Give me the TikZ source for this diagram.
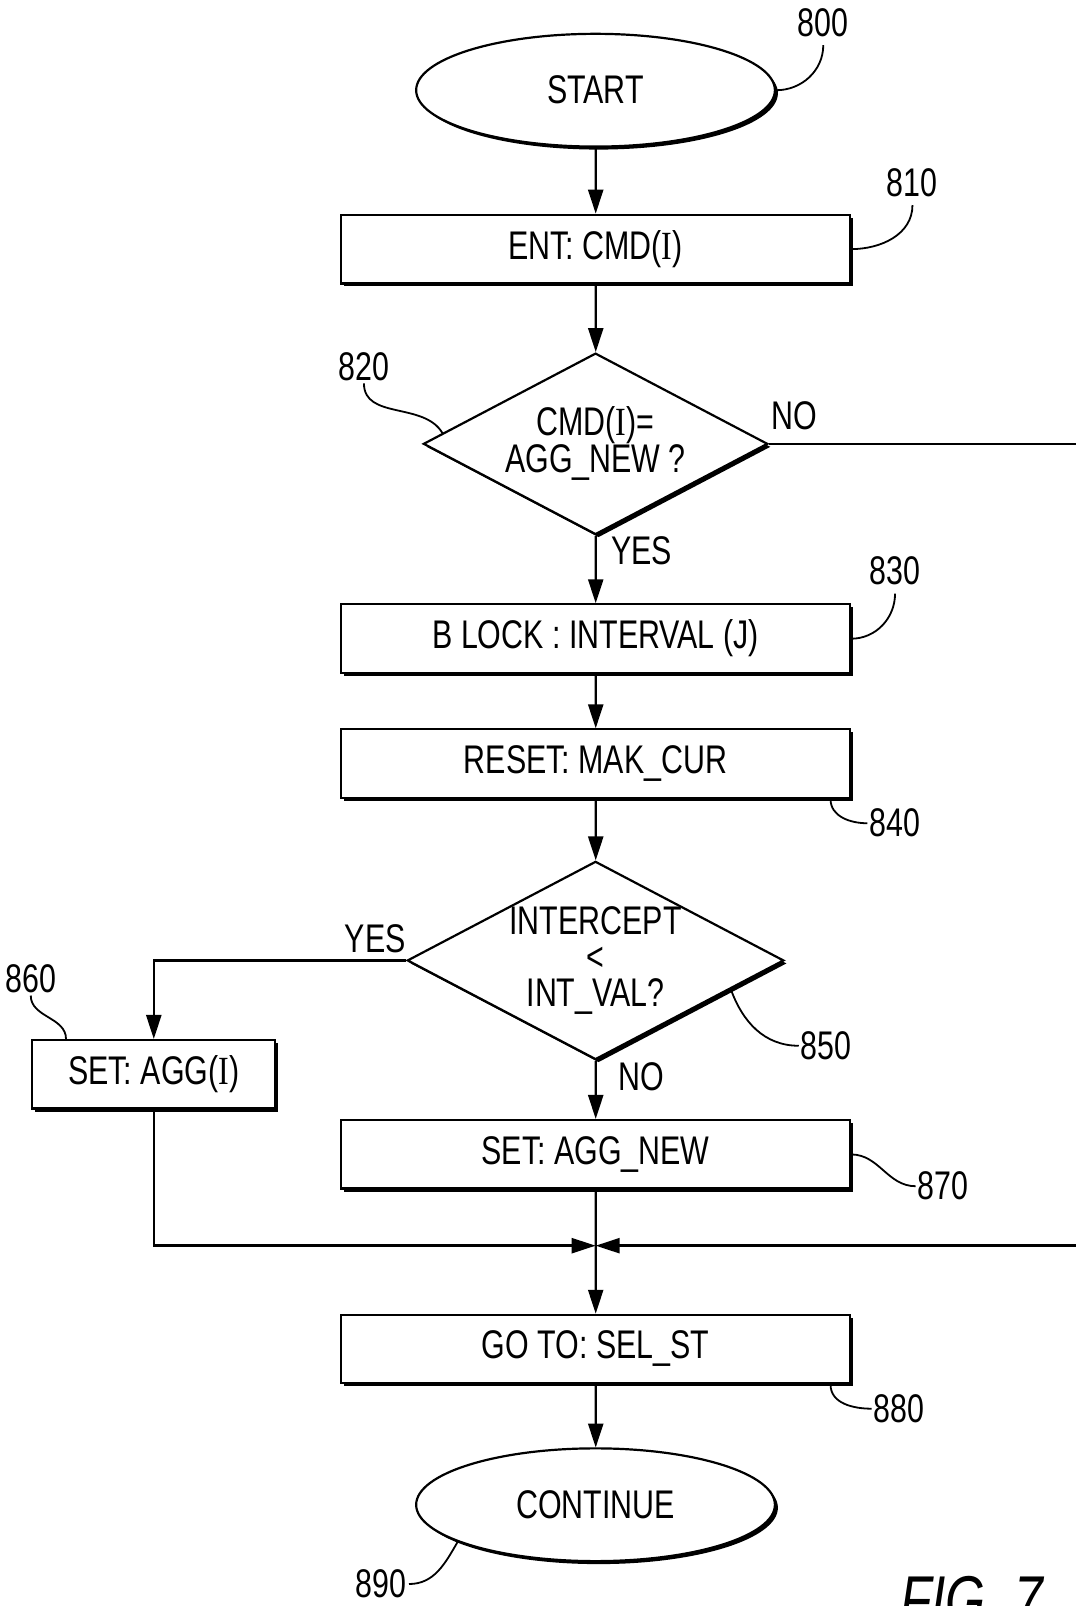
\documentclass[tikz,border=0pt]{standalone}
\usepackage{fontspec}
\setmainfont[FakeStretch=0.76]{Liberation Sans}
\newfontfamily\romI[FakeStretch=0.8]{Liberation Serif}
\usetikzlibrary{shapes.geometric,arrows.meta,shadows}
\newcommand\chartsize{\fontsize{39}{35}\selectfont}
\tikzset{
  stepbox/.style={draw, line width=2.2pt, fill=white, inner sep=0pt, minimum height=67pt, font=\chartsize,
    drop shadow={shadow xshift=3pt, shadow yshift=-3pt, fill=black, opacity=1}},
  term/.style={stepbox, ellipse, minimum width=350pt, minimum height=110pt},
  decide/.style={stepbox, diamond, align=center, aspect=1.9},
  flow/.style={line width=2.4pt, -{Triangle[length=24pt,width=15pt]}},
  wire/.style={line width=2.4pt},
  lead/.style={line width=1.8pt},
  tag/.style={font=\chartsize, inner sep=2pt},
}
\begin{document}
\begin{tikzpicture}[x=1pt, y=-1pt, scale=1.025, every node/.append style={transform shape}]
    \useasboundingbox (0,0) rectangle (1048.8,1566.8);
    \node[term] (start) at (581,88) {START};
    \node[stepbox, minimum width=496pt] (b810) at (581,243) {ENT: CMD({\romI I})};
    \node[decide, minimum width=336pt, minimum height=177pt] (d820) at (581,433) {CMD({\romI I})=\\AGG\_NEW ?};
    \node[stepbox, minimum width=496pt] (b830) at (581,623) {B LOCK : INTERVAL (J)};
    \node[stepbox, minimum width=496pt] (b840) at (581,745) {RESET: MAK\_CUR};
    \node[decide, minimum width=365pt, minimum height=193pt] (d850) at (581,937) {INTERCEPT\\<\\INT\_VAL?};
    \node[stepbox, minimum width=237pt] (b860) at (150,1048) {SET: AGG({\romI I})};
    \node[stepbox, minimum width=496pt] (b870) at (581,1126) {SET: AGG\_NEW};
    \node[stepbox, minimum width=496pt] (b880) at (581,1316) {GO TO: SEL\_ST};
    \node[term] (cont) at (581,1468) {CONTINUE};
    \coordinate (jn) at (581,1215);
    \coordinate (rt1) at (1100,433);
    \coordinate (rt2) at (1100,1215);
    \draw[flow] (start) -- (b810);
    \draw[flow] (b810) -- (d820);
    \draw[flow] (d820) -- (b830);
    \draw[flow] (b830) -- (b840);
    \draw[flow] (b840) -- (d850);
    \draw[flow] (d850.west) -| (b860.north);
    \draw[flow] (d850) -- (b870);
    \draw[flow] (b870) -- (b880);
    \draw[flow] (b880) -- (cont);
    \draw[flow] (b860.south) |- (jn);
    \draw[flow] (d820.east) -- (rt1) -- (rt2) -- (jn);
    \node[tag] (no820) at (775,406) {NO};
    \node[tag] (yes820) at (626,537) {YES};
    \node[tag] (yes850) at (366,916) {YES};
    \node[tag] (no850) at (626,1050) {NO};
    \node[tag] (n800) at (803,22) {800};
    \node[tag] (n810) at (890,178) {810};
    \node[tag] (n820) at (355,358) {820};
    \node[tag] (n830) at (873,557) {830};
    \node[tag] (n840) at (873,803) {840};
    \node[tag] (n850) at (806,1020) {850};
    \node[tag] (n860) at (30,955) {860};
    \node[tag] (n870) at (920,1157) {870};
    \node[tag] (n880) at (877,1374) {880};
    \node[tag] (n890) at (372,1545) {890};
    \draw[lead] (start.east) to[out=0,in=-90] ([yshift=-6pt]n800.south);
    \draw[lead] (b810.east) to[out=0,in=-90] ([yshift=-6pt]n810.south);
    \draw[lead] (n820.south) to[out=-90,in=120] (d820.176);
    \draw[lead] (b830.east) to[out=0,in=-90] ([yshift=-6pt]n830.south);
    \draw[lead] ([xshift=-20pt]b840.south east) to[out=-90,in=180] (n840.west);
    \draw[lead] (d850.-12) to[out=-70,in=180] (n850.west);
    \draw[lead] (n860.south) to[out=-90,in=90] ([xshift=34pt]b860.north west);
    \draw[lead] (b870.east) to[out=0,in=180] (n870.west);
    \draw[lead] ([xshift=-20pt]b880.south east) to[out=-90,in=180] (n880.west);
    \draw[lead] (n890.east) to[out=0,in=-120] (cont.-165);
    \node[font=\fontsize{66}{72}\selectfont\itshape, anchor=north west, inner sep=0pt] (fig) at (878,1538) {FIG. 7};
\end{tikzpicture}
\end{document}
